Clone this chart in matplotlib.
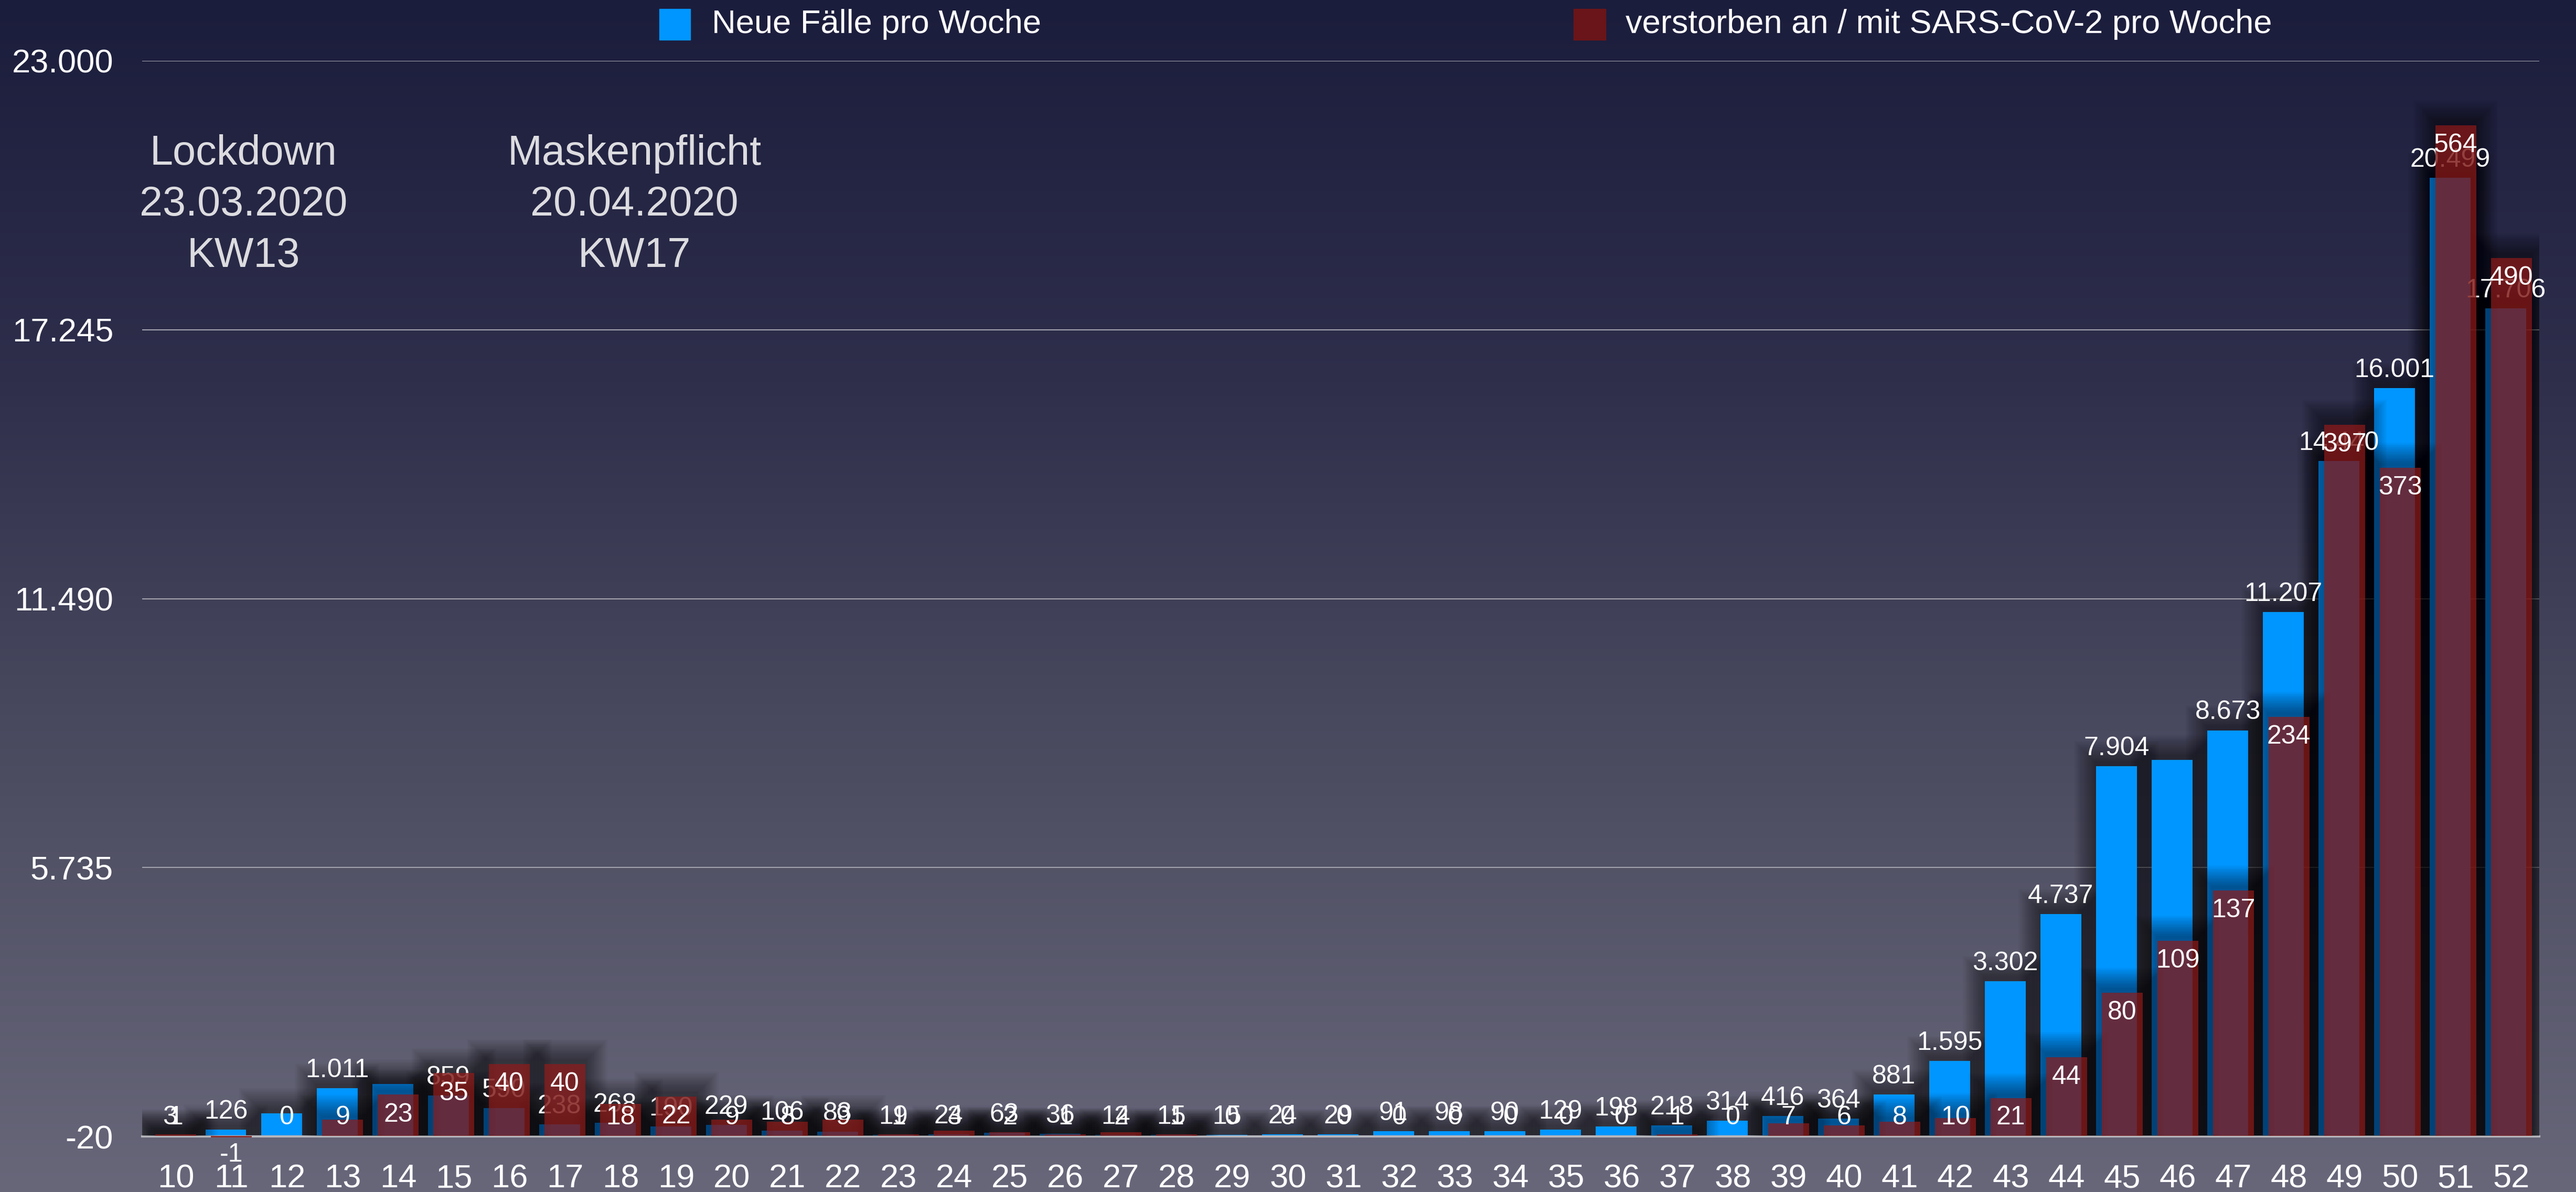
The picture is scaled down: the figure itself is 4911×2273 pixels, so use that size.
import matplotlib
matplotlib.use("Agg")
import matplotlib.pyplot as plt
from matplotlib.patches import Rectangle, PathPatch
from matplotlib.path import Path
from matplotlib.ticker import FuncFormatter
import numpy as np

# Kalenderwochen 2020
weeks = list(range(10, 53))

# neue Fälle pro Woche
new_cases = [3, 126, 475, 1011, 1102, 859, 590, 238, 268, 190,
             229, 106, 83, 19, 24, 63, 36, 14, 15, 15,
             24, 29, 91, 98, 90, 129, 198, 218, 314, 416,
             364, 881, 1595, 3302, 4737, 7904, 8040, 8673, 11207, 14440,
             16001, 20499, 17706]

# verstorben an / mit SARS-CoV-2 pro Woche
deaths = [1, -1, 0, 9, 23, 35, 40, 40, 18, 22,
          9, 8, 9, 1, 3, 2, 1, 2, 1, 0,
          0, 0, 0, 0, 0, 0, 0, 1, 0, 7,
          6, 8, 10, 21, 44, 80, 109, 137, 234, 397,
          373, 564, 490]

# weeks whose case count has no label on the chart
unlabeled_case_weeks = [12, 14, 46]

case_ticks = [-20, 5735, 11490, 17245, 23000]

events = [("Lockdown\n23.03.2020\nKW13", 0.0945),
          ("Maskenpflicht\n20.04.2020\nKW17", 0.2462)]

BLUE = "#0096ff"
RED = "#7c1412"
RED_ALPHA = 0.81
BAR_W = 0.735
CASE_SHIFT = -0.1

plt.rcParams['font.family'] = ['Liberation Sans', 'DejaVu Sans']


def de_format(v):
    return f"{int(v):,}".replace(",", ".")


def px_per_unit(axis):
    x0, y0 = axis.transData.transform((0, 0))
    x1, y1 = axis.transData.transform((1, 1))
    return x1 - x0, y1 - y0


def bar_shadow(axis, xs, heights, zorder, layers=16, step=2.6, alpha=0.032, lift=6):
    """soft dark halo round each bar: rings that grow outwards, the bar itself left clear"""
    xpx, ypx = px_per_unit(axis)
    ring = [Path.MOVETO, Path.LINETO, Path.LINETO, Path.LINETO, Path.CLOSEPOLY]
    for x, h in zip(xs, heights):
        if h <= 0:
            continue
        l, r = x - BAR_W / 2, x + BAR_W / 2
        inner = [(l, 0), (l, h), (r, h), (r, 0), (l, 0)]
        for i in range(1, layers + 1):
            sx = i * step / xpx
            top = h + (i * step + lift) / ypx
            outer = [(l - sx, 0), (r + sx, 0), (r + sx, top), (l - sx, top), (l - sx, 0)]
            axis.add_patch(PathPatch(Path(outer + inner, ring * 2), facecolor="black",
                                     alpha=alpha, linewidth=0, zorder=zorder))


fig = plt.figure(figsize=(49.11, 22.73), dpi=100)

# background gradient
bg = fig.add_axes([0, 0, 1, 1], zorder=-10)
stops_y = [0.0, 0.32, 0.69, 1.0]
stops_c = np.array([[27, 29, 60], [47, 47, 76], [80, 80, 100], [104, 103, 122]]) / 255
yy = np.linspace(0, 1, 512)
grad = np.stack([np.interp(yy, stops_y, stops_c[:, k]) for k in range(3)], axis=1)
bg.imshow(grad[:, None, :], aspect="auto", extent=[0, 1, 0, 1], origin="upper")
bg.axis("off")

ax = fig.add_axes([0.0552, 0.0466, 0.9305, 0.9024])
ax.patch.set_alpha(0)
ax.set_xlim(9.396, 52.5)
ax.set_ylim(-20, 23000)

ax2 = ax.twinx()
ax2.set_ylim(-0.3, 600)
ax2.patch.set_alpha(0)

case_x = [w + CASE_SHIFT for w in weeks]

# cases
bar_shadow(ax, case_x, new_cases, zorder=1)
ax.bar(case_x, new_cases, width=BAR_W, color=BLUE, linewidth=0, zorder=2)

# deaths on their own scale
bar_shadow(ax2, weeks, deaths, zorder=1)
ax2.bar(weeks, deaths, width=BAR_W, color=RED, alpha=RED_ALPHA, linewidth=0,
        zorder=3, clip_on=False)

# case labels sit under the death bars
for w, x, v in zip(weeks, case_x, new_cases):
    if w in unlabeled_case_weeks:
        continue
    ax2.annotate(de_format(v), xy=(x, v), xycoords=ax.transData,
                 xytext=(0, 24.5), textcoords="offset points",
                 ha="center", va="center", fontsize=36, color="white", zorder=2)

# death labels inside the top of the bar, kept above the baseline
_, dpx = px_per_unit(ax2)
for w, v in zip(weeks, deaths):
    if v < 0:
        xy, off = (w, 0), -26
    elif v * dpx - 38 >= 35:
        xy, off = (w, v), -27.4
    else:
        xy, off = (w, 0), 25.2
    ax2.annotate(de_format(v), xy=xy, xytext=(0, off), textcoords="offset points",
                 ha="center", va="center", fontsize=36, color="white", zorder=4)

# axes styling
ax.set_yticks(case_ticks)
ax.yaxis.set_major_formatter(FuncFormatter(lambda v, p: de_format(v)))
ax.yaxis.grid(True, color="#a2a2ae", linewidth=1.5)
ax.set_axisbelow(True)
ax.set_xticks(weeks)
ax.set_xticklabels([str(w) for w in weeks])
ax.tick_params(axis="y", length=0, pad=39.6, labelsize=45.5, labelcolor="white")
ax.tick_params(axis="x", length=0, pad=37, labelsize=45.5, labelcolor="white")
for side in ["top", "right", "left"]:
    ax.spines[side].set_visible(False)
    ax2.spines[side].set_visible(False)
ax.spines["bottom"].set_color("#b6b6bc")
ax.spines["bottom"].set_linewidth(3)
ax2.spines["bottom"].set_visible(False)
ax2.set_yticks([])

# legend
fig.patches.append(Rectangle((1257 / 4911, 1 - 76 / 2273), 59 / 4911, 59 / 2273,
                             transform=fig.transFigure, color=BLUE))
fig.text(1357 / 4911, 1 - 47 / 2273, "Neue Fälle pro Woche", fontsize=45.5,
         color="white", va="center", ha="left")
fig.patches.append(Rectangle((3000 / 4911, 1 - 76 / 2273), 61 / 4911, 59 / 2273,
                             transform=fig.transFigure, color=RED, alpha=RED_ALPHA))
fig.text(3099 / 4911, 1 - 47 / 2273, "verstorben an / mit SARS-CoV-2 pro Woche",
         fontsize=45.5, color="white", va="center", ha="left")

# events
for label, xpos in events:
    fig.text(xpos, 1 - 391 / 2273, label, fontsize=57, color="#dcdce0",
             ha="center", va="center", linespacing=1.38)

fig.savefig("out.png", dpi=100)
